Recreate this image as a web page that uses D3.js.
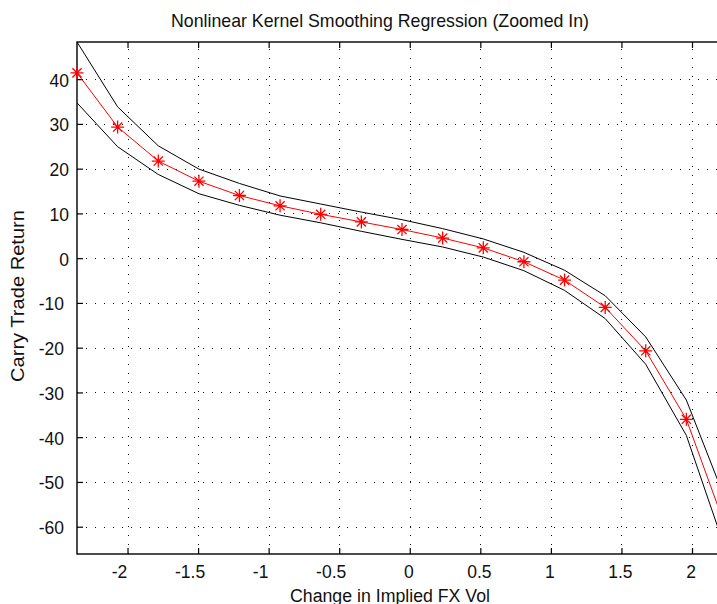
<!DOCTYPE html>
<html>
<head>
<meta charset="utf-8">
<script src="https://cdn.jsdelivr.net/npm/d3@7"></script>
<style>
    html, body { margin: 0; padding: 0; background: #fff; }
    svg { display: block; font-family: "Liberation Sans", Arial, sans-serif; }
</style>
</head>
<body>
<svg id="chart" width="717" height="604"></svg>
<script>
// Kernel smoothing fit with upper/lower bands

const volChange = [-2.358, -2.070, -1.782, -1.494, -1.207, -0.919, -0.631, -0.343, -0.055,
    0.233, 0.521, 0.809, 1.097, 1.385, 1.672, 1.960, 2.248];
const fitted = [41.4, 29.3, 21.7, 17.2, 14.0, 11.7, 9.8, 8.1, 6.4,
    4.5, 2.3, -0.8, -4.9, -11.0, -20.7, -36.0, -61.0];
const upperBand = [48.3, 33.8, 25.1, 19.9, 16.7, 13.9, 12.1, 10.3, 8.6,
    6.6, 4.3, 1.3, -2.7, -8.4, -17.6, -31.7, -54.9];
const lowerBand = [34.7, 24.9, 18.7, 14.4, 11.8, 9.6, 7.9, 6.0, 4.2,
    2.5, 0.25, -2.8, -7.2, -13.5, -23.7, -39.6, -66.1];

const xTicks = [-2, -1.5, -1, -0.5, 0, 0.5, 1, 1.5, 2];
const yTicks = [-60, -50, -40, -30, -20, -10, 0, 10, 20, 30, 40];

const plot = { left: 77, top: 42, right: 727, bottom: 554 };

const svg = d3.select('#chart');

const x = d3.scaleLinear()
    .domain([d3.min(volChange), d3.max(volChange)])
    .range([plot.left, plot.right]);

const y = d3.scaleLinear()
    .domain([d3.min(lowerBand), d3.max(upperBand)])
    .range([plot.bottom, plot.top]);

svg.append('rect')
    .attr('width', 717)
    .attr('height', 604)
    .attr('fill', '#fff');

// Dotted grid
const grid = svg.append('g')
    .attr('stroke', '#111')
    .attr('stroke-width', 1)
    .attr('stroke-dasharray', '1,8');

grid.selectAll('line.h')
    .data(yTicks)
    .enter()
    .append('line')
    .attr('class', 'h')
    .attr('x1', plot.left)
    .attr('x2', plot.right)
    .attr('y1', d => Math.round(y(d)) + 0.5)
    .attr('y2', d => Math.round(y(d)) + 0.5);

grid.selectAll('line.v')
    .data(xTicks)
    .enter()
    .append('line')
    .attr('class', 'v')
    .attr('y1', plot.bottom)
    .attr('y2', plot.top)
    .attr('x1', d => Math.round(x(d)) + 0.5)
    .attr('x2', d => Math.round(x(d)) + 0.5);

// Inward ticks on all four sides
const tickLen = 6;
const axisStyle = g => {
    g.select('.domain').remove();
    g.selectAll('.tick line').attr('stroke', '#000').attr('stroke-width', 1.2);
    g.selectAll('.tick text').remove();
};

svg.append('g')
    .attr('transform', `translate(0,${plot.bottom})`)
    .call(d3.axisBottom(x).tickValues(xTicks).tickSize(-tickLen))
    .call(axisStyle);

svg.append('g')
    .attr('transform', `translate(0,${plot.top})`)
    .call(d3.axisTop(x).tickValues(xTicks).tickSize(-tickLen))
    .call(axisStyle);

svg.append('g')
    .attr('transform', `translate(${plot.left},0)`)
    .call(d3.axisLeft(y).tickValues(yTicks).tickSize(-tickLen))
    .call(axisStyle);

svg.append('g')
    .attr('transform', `translate(${plot.right},0)`)
    .call(d3.axisRight(y).tickValues(yTicks).tickSize(-tickLen))
    .call(axisStyle);

// Axes box
svg.append('rect')
    .attr('x', plot.left)
    .attr('y', plot.top)
    .attr('width', plot.right - plot.left)
    .attr('height', plot.bottom - plot.top)
    .attr('fill', 'none')
    .attr('stroke', '#000')
    .attr('stroke-width', 1.4);

// Tick labels (negative labels sit a bit further left, as in the original)
svg.append('g')
    .selectAll('text')
    .data(xTicks)
    .enter()
    .append('text')
    .attr('x', d => x(d) + (d < 0 ? -8 : -1))
    .attr('y', 578)
    .attr('text-anchor', 'middle')
    .attr('font-size', 17.5)
    .attr('fill', '#111')
    .text(d => String(d));

svg.append('g')
    .selectAll('text')
    .data(yTicks)
    .enter()
    .append('text')
    .attr('x', d => d < 0 ? 64 : 69)
    .attr('y', d => y(d) + 7.5)
    .attr('text-anchor', 'end')
    .attr('font-size', 17.5)
    .attr('fill', '#111')
    .text(d => String(d));

// Data lines
const line = series => d3.line()
    .x((d, i) => x(volChange[i]))
    .y(d => y(d))(series);

svg.append('path')
    .attr('d', line(upperBand))
    .attr('fill', 'none')
    .attr('stroke', '#000')
    .attr('stroke-width', 1);

svg.append('path')
    .attr('d', line(lowerBand))
    .attr('fill', 'none')
    .attr('stroke', '#000')
    .attr('stroke-width', 1);

svg.append('path')
    .attr('d', line(fitted))
    .attr('fill', 'none')
    .attr('stroke', '#f00')
    .attr('stroke-width', 1);

// Star markers
const r = 6.5, rd = 4.6;
const starPath = `M${-r},0L${r},0M0,${-r}L0,${r}M${-rd},${-rd}L${rd},${rd}M${-rd},${rd}L${rd},${-rd}`;

svg.append('g')
    .selectAll('path')
    .data(fitted)
    .enter()
    .append('path')
    .attr('transform', (d, i) => `translate(${x(volChange[i])},${y(d)})`)
    .attr('d', starPath)
    .attr('fill', 'none')
    .attr('stroke', '#f00')
    .attr('stroke-width', 1.3);

// Titles
svg.append('text')
    .attr('x', 171)
    .attr('y', 27)
    .attr('font-size', 19)
    .attr('textLength', 418)
    .attr('lengthAdjust', 'spacingAndGlyphs')
    .attr('fill', '#111')
    .text('Nonlinear Kernel Smoothing Regression (Zoomed In)');

svg.append('text')
    .attr('x', 290)
    .attr('y', 601.5)
    .attr('font-size', 18)
    .attr('textLength', 200)
    .attr('lengthAdjust', 'spacingAndGlyphs')
    .attr('fill', '#111')
    .text('Change in Implied FX Vol');

svg.append('text')
    .attr('transform', 'translate(23.5,382) rotate(-90)')
    .attr('font-size', 19)
    .attr('textLength', 172)
    .attr('lengthAdjust', 'spacingAndGlyphs')
    .attr('fill', '#111')
    .text('Carry Trade Return');
</script>
</body>
</html>
